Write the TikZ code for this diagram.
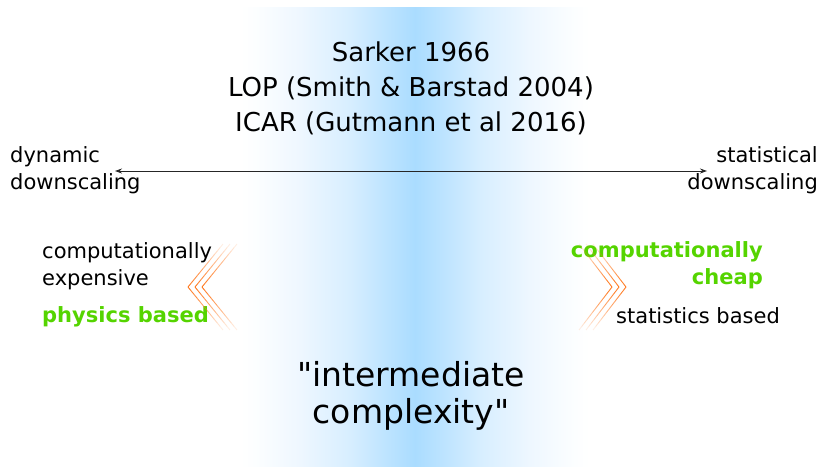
\documentclass[tikz,border=0pt]{standalone}
\usepackage{fontspec}
\setmainfont{DejaVu Sans}
\usetikzlibrary{arrows.meta,calc}
\definecolor{bandblue}{RGB}{170,220,255}
\definecolor{bandA}{RGB}{190,228,255}
\definecolor{bandB}{RGB}{215,238,255}
\definecolor{bandC}{RGB}{238,247,255}
\definecolor{bandD}{RGB}{252,254,255}
\definecolor{lgreen}{RGB}{85,212,0}
\definecolor{chev}{RGB}{255,120,30}
\pgfdeclarehorizontalshading{bandshade}{100bp}{%
  color(0bp)=(white); color(25bp)=(white); color(27.14bp)=(bandD);
  color(33.57bp)=(bandC); color(40.71bp)=(bandB); color(45.71bp)=(bandA);
  color(50bp)=(bandblue); color(54.29bp)=(bandA); color(59.29bp)=(bandB);
  color(66.43bp)=(bandC); color(72.86bp)=(bandD); color(75bp)=(white);
  color(100bp)=(white)}
\tikzset{
  sidetext/.style={inner sep=0pt, font=\fontsize{21}{27}\selectfont},
  greentext/.style={sidetext, text=lgreen, font=\fontsize{21}{27}\selectfont\bfseries},
  titletext/.style={inner sep=0pt, align=center, font=\fontsize{26}{35}\selectfont},
  bigtext/.style={inner sep=0pt, align=center, font=\fontsize{33}{37}\selectfont},
  scalearrow/.style={draw=black!85, line width=0.9pt, {Stealth[length=7pt,width=5pt]}-{Stealth[length=7pt,width=5pt]}}
}
\newcommand{\fadeseg}[2]{%
  \foreach \i in {0,...,11}{%
    \pgfmathsetmacro{\op}{1-\i*0.08}%
    \draw[chev, line width=0.9pt, opacity=\op] ($#1!{\i/12}!#2$) -- ($#1!{(\i+1)/12}!#2$);%
  }%
}
\begin{document}
\begin{tikzpicture}[x=1pt,y=-1pt]
\useasboundingbox (0,0) rectangle (821,466);
% band
\shade[shading=bandshade] (240,7) rectangle (590,466);
% title
\node[titletext] (title) at (411,88) {Sarker 1966\\LOP (Smith \& Barstad 2004)\\ICAR (Gutmann et al 2016)};
% scale
\node[sidetext, anchor=west, align=left] (dyn) at (10,170) {dynamic\\downscaling};
\node[sidetext, anchor=east, align=right] (stat) at (818,170) {statistical\\downscaling};
\coordinate (L) at (115,171);
\coordinate (R) at (707,171);
\draw[scalearrow] (L) -- (R);
% left side
\node[sidetext, anchor=west, align=left] (costl) at (42,266) {computationally\\expensive};
\node[greentext, anchor=west] (phys) at (42,317) {physics based};
% right side
\node[greentext, anchor=east, align=right] (costr) at (763,265) {computationally\\cheap};
\node[sidetext, anchor=west] (statb) at (616,316) {statistics based};
% chevrons
\foreach \dx in {0,7,14}{
  \coordinate (lt) at (188+\dx,287);
  \coordinate (la) at (223+\dx,244);
  \coordinate (lb) at (223+\dx,330);
  \fadeseg{(lt)}{(la)}
  \fadeseg{(lt)}{(lb)}
  \coordinate (rt) at (612+\dx,287);
  \coordinate (ra) at (579+\dx,244);
  \coordinate (rb) at (579+\dx,330);
  \fadeseg{(rt)}{(ra)}
  \fadeseg{(rt)}{(rb)}
}
% bottom
\node[bigtext] (inter) at (411,396) {\textquotedbl intermediate\\complexity\textquotedbl};
\end{tikzpicture}
\end{document}
